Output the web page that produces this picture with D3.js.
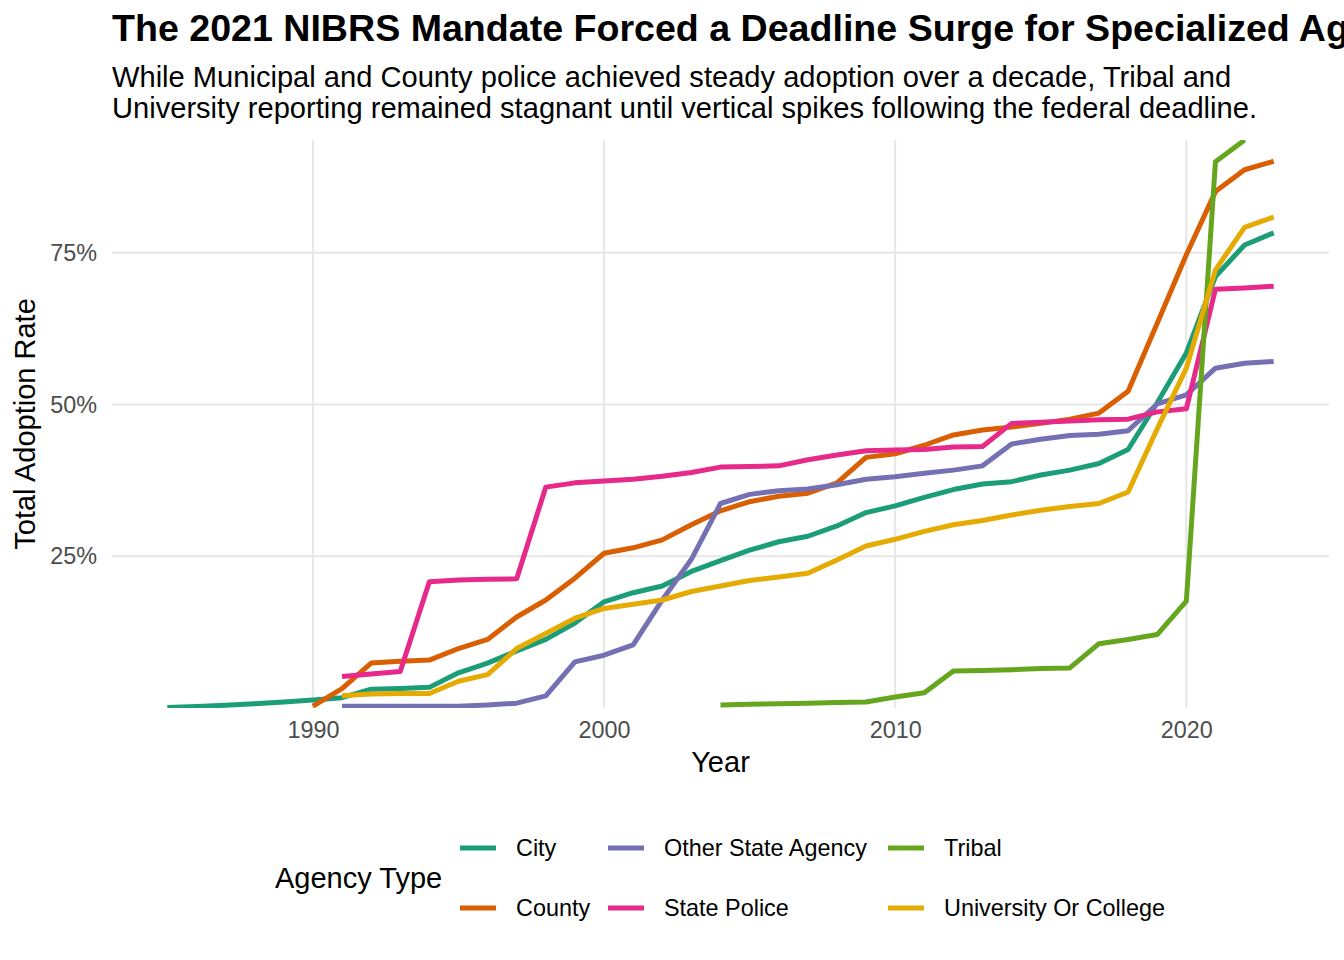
<!DOCTYPE html>
<html>
<head>
<meta charset="utf-8">
<script src="https://cdn.jsdelivr.net/npm/d3@7"></script>
<style>
  html, body { margin: 0; padding: 0; background: #fff; }
  svg { display: block; }
  text { font-family: "Liberation Sans", Arial, Helvetica, sans-serif; }
</style>
</head>
<body>
<svg id="chart" width="1344" height="960"></svg>
<script>
// ---------------- Data ----------------
const agencyTypes = ["City", "County", "Other State Agency", "State Police", "Tribal", "University Or College"];
const colors = ["#1B9E77", "#D95F02", "#7570B3", "#E7298A", "#66A61E", "#E6AB02"];

const cityYears = d3.range(1985, 2024);
const cityValues = [0.1, 0.25, 0.45, 0.7, 1.0, 1.3, 1.7, 3.1, 3.2, 3.4, 5.8, 7.4, 9.4, 11.3, 14.0, 17.5, 19.0, 20.1, 22.5, 24.3,
  26.0, 27.4, 28.3, 30.0, 32.2, 33.3, 34.7, 36.0, 36.9, 37.3, 38.4, 39.2, 40.3, 42.6, 50.3, 58.5, 71.1, 76.3, 78.3];

const countyYears = d3.range(1990, 2024);
const countyValues = [0.3, 3.2, 7.4, 7.7, 7.9, 9.8, 11.3, 15.0, 17.8, 21.4, 25.5, 26.4, 27.7, 30.2, 32.5, 34.0, 34.9, 35.4,
  37.1, 41.3, 41.9, 43.3, 45.0, 45.8, 46.3, 46.9, 47.6, 48.6, 52.2, 63.4, 74.7, 85.1, 88.7, 90.1];

const otherStateYears = d3.range(1991, 2024);
const otherStateValues = [0.3, 0.3, 0.3, 0.3, 0.3, 0.5, 0.8, 2.0, 7.6, 8.7, 10.4, 17.8, 24.5, 33.7, 35.2, 35.8, 36.1, 36.8,
  37.7, 38.1, 38.7, 39.2, 39.9, 43.5, 44.3, 44.9, 45.1, 45.7, 50.1, 51.6, 56.0, 56.8, 57.1];

const statePoliceYears = d3.range(1991, 2024);
const statePoliceValues = [5.2, 5.6, 6.0, 20.8, 21.1, 21.2, 21.3, 36.4, 37.1, 37.4, 37.7, 38.2, 38.8, 39.7, 39.8, 39.9, 40.9,
  41.7, 42.4, 42.5, 42.6, 43.0, 43.1, 46.9, 47.1, 47.3, 47.5, 47.6, 48.8, 49.3, 69.0, 69.2, 69.5];

const tribalYears = d3.range(2004, 2023);
const tribalValues = [0.5, 0.6, 0.7, 0.8, 0.9, 1.0, 1.8, 2.5, 6.1, 6.2, 6.3, 6.5, 6.6, 10.6, 11.3, 12.1, 17.6, 90.0, 93.6];

const universityYears = d3.range(1991, 2024);
const universityValues = [2.0, 2.3, 2.4, 2.4, 4.4, 5.5, 9.8, 12.3, 14.8, 16.4, 17.1, 17.8, 19.2, 20.1, 21.0, 21.6, 22.2, 24.4,
  26.7, 27.8, 29.1, 30.2, 30.9, 31.8, 32.6, 33.2, 33.7, 35.6, 46.0, 56.0, 72.2, 79.2, 80.9];

const xTicks = [1990, 2000, 2010, 2020];
const yTicks = [0.25, 0.50, 0.75];

const titleText = "The 2021 NIBRS Mandate Forced a Deadline Surge for Specialized Agencies";
const subtitleLines = [
  "While Municipal and County police achieved steady adoption over a decade, Tribal and",
  "University reporting remained stagnant until vertical spikes following the federal deadline."
];

// ---------------- Build series ----------------
const seriesYears = [cityYears, countyYears, otherStateYears, statePoliceYears, tribalYears, universityYears];
const seriesValues = [cityValues, countyValues, otherStateValues, statePoliceValues, tribalValues, universityValues];
const series = agencyTypes.map((name, i) => ({
  name, color: colors[i],
  points: seriesYears[i].map((yr, j) => ({ year: yr, value: seriesValues[i][j] / 100 }))
}));

// ---------------- Layout ----------------
const svg = d3.select("#chart");
const panel = { left: 112, right: 1329, top: 140, bottom: 708 };

const allYears = series.flatMap(s => s.points.map(p => p.year));
const yrMin = d3.min(allYears), yrMax = d3.max(allYears);
const pad = (yrMax - yrMin) * 0.05;
const x = d3.scaleLinear().domain([yrMin - pad, yrMax + pad]).range([panel.left, panel.right]);
const yMax = d3.max(series.flatMap(s => s.points.map(p => p.value)));
const y = d3.scaleLinear().domain([0, yMax]).range([panel.bottom, panel.top]);

// Grid
const grid = svg.append("g");
grid.selectAll("line.gx").data(xTicks).join("line")
  .attr("x1", d => x(d)).attr("x2", d => x(d))
  .attr("y1", panel.top).attr("y2", panel.bottom)
  .attr("stroke", "#E6E6E6").attr("stroke-width", 2);
grid.selectAll("line.gy").data(yTicks).join("line")
  .attr("x1", panel.left).attr("x2", panel.right)
  .attr("y1", d => y(d)).attr("y2", d => y(d))
  .attr("stroke", "#E6E6E6").attr("stroke-width", 2);

// Axes
const xAxis = svg.append("g").attr("transform", `translate(0,${panel.bottom})`)
  .call(d3.axisBottom(x).tickValues(xTicks).tickFormat(d3.format("d")).tickSize(0).tickPadding(13.5));
const yAxis = svg.append("g").attr("transform", `translate(${panel.left},0)`)
  .call(d3.axisLeft(y).tickValues(yTicks).tickFormat(d3.format(".0%")).tickSize(0).tickPadding(15));
[xAxis, yAxis].forEach(a => {
  a.select(".domain").remove();
  a.selectAll("text").attr("fill", "#4D4D4D").style("font-size", "23.4px")
    .style("font-family", '"Liberation Sans", Arial, sans-serif');
});

// Clip
svg.append("clipPath").attr("id", "panelClip").append("rect")
  .attr("x", panel.left).attr("y", panel.top)
  .attr("width", panel.right - panel.left).attr("height", panel.bottom - panel.top);

const line = d3.line().x(d => x(d.year)).y(d => y(d.value));
svg.append("g").attr("clip-path", "url(#panelClip)")
  .selectAll("path").data(series).join("path")
  .attr("d", d => line(d.points))
  .attr("fill", "none")
  .attr("stroke", d => d.color)
  .attr("stroke-width", 5)
  .attr("stroke-linejoin", "round")
  .attr("stroke-linecap", "butt");

// Axis titles
svg.append("text").attr("x", (panel.left + panel.right) / 2).attr("y", 772)
  .attr("text-anchor", "middle").style("font-size", "29px").attr("fill", "#000").text("Year");
svg.append("text").attr("transform", `translate(35,${(panel.top + panel.bottom) / 2}) rotate(-90)`)
  .attr("text-anchor", "middle").style("font-size", "29px").attr("fill", "#000").text("Total Adoption Rate");

// Title & subtitle
svg.append("text").attr("x", 112).attr("y", 41)
  .style("font-size", "37.6px").style("font-weight", "bold").attr("fill", "#000").text(titleText);
svg.selectAll("text.sub").data(subtitleLines).join("text")
  .attr("class", "sub").attr("x", 112).attr("y", (d, i) => 87 + i * 30.5)
  .style("font-size", "29.1px").attr("fill", "#000").text(d => d);

// Legend
const legendColX = [460, 608, 888];
const legendRowY = [848, 908];
const legend = svg.append("g");
legend.append("text").attr("x", 275).attr("y", 878).attr("dy", "0.35em")
  .style("font-size", "29px").attr("fill", "#000").text("Agency Type");
const items = legend.selectAll("g.item").data(series).join("g")
  .attr("transform", (d, i) => `translate(${legendColX[Math.floor(i / 2)]},${legendRowY[i % 2]})`);
items.append("line").attr("x1", 0).attr("x2", 36).attr("y1", 0).attr("y2", 0)
  .attr("stroke", d => d.color).attr("stroke-width", 5);
items.append("text").attr("x", 56).attr("dy", "0.35em")
  .style("font-size", "23.4px").attr("fill", "#000").text(d => d.name);
</script>
</body>
</html>
